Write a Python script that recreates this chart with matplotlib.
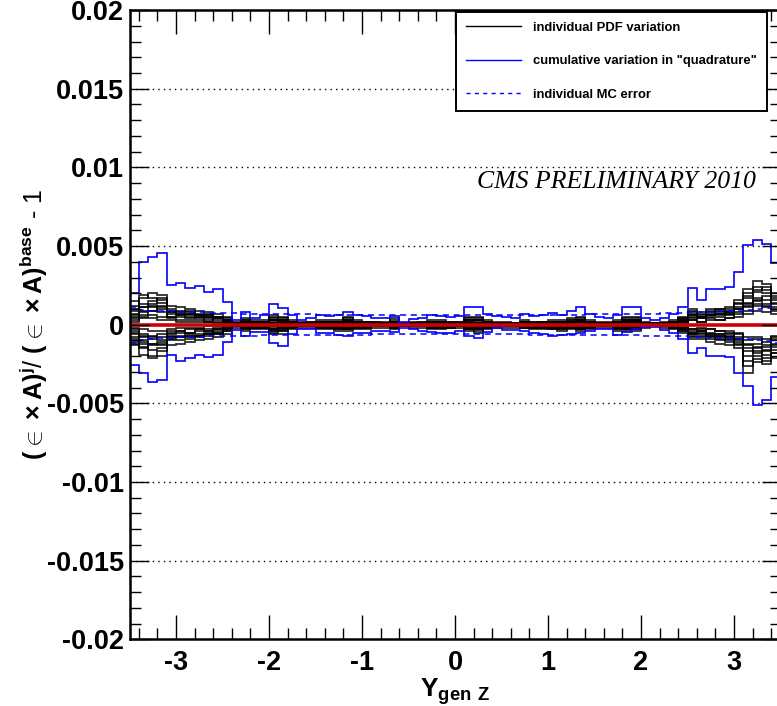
import numpy as np
import matplotlib
matplotlib.use('Agg')
import matplotlib.pyplot as plt
from matplotlib.lines import Line2D
from matplotlib.ticker import MultipleLocator, FuncFormatter

plt.rcParams['font.family'] = ['Liberation Sans', 'DejaVu Sans']
plt.rcParams['font.weight'] = 'bold'
plt.rcParams['mathtext.fontset'] = 'custom'
plt.rcParams['mathtext.rm'] = 'Liberation Sans'
plt.rcParams['mathtext.bf'] = 'Liberation Sans:bold'

# 70 bins of width 0.1 between -3.5 and 3.5
bin_edges = np.linspace(-3.5, 3.5, 71)

# cumulative variation in quadrature (units of 1e-3)
quad_up = [1.99, 4.00, 4.28, 4.58, 2.52, 2.67, 2.31, 2.46, 2.10, 2.27,
           1.46, 0.30, 0.83, 0.41, 0.62, 1.30, 1.04, 0.60, 0.30, 0.45,
           0.62, 0.57, 0.62, 0.83, 0.62, 0.57, 0.41, 0.41, 0.55, 0.19,
           0.34, 0.41, 0.62, 0.57, 0.51, 0.55, 1.10, 1.10, 0.68, 0.55,
           0.51, 0.41, 0.66, 0.55, 0.62, 0.76, 0.62, 0.87, 1.14, 0.66,
           0.51, 0.41, 0.60, 1.10, 1.14, 0.41, 0.30, 0.45, 0.68, 1.10,
           2.31, 1.57, 2.25, 2.25, 2.42, 3.37, 5.07, 5.38, 5.10, 3.90]
quad_down = [-2.56, -3.09, -3.62, -3.51, -1.93, -2.29, -2.14, -1.93, -2.07, -1.93,
             -1.12, -0.34, -0.70, -0.48, -0.48, -1.18, -1.35, -0.60, -0.29, -0.29,
             -0.51, -0.55, -0.65, -0.72, -0.55, -0.51, -0.40, -0.40, -0.44, -0.19,
             -0.29, -0.40, -0.44, -0.55, -0.55, -0.40, -0.72, -0.83, -0.44, -0.23,
             -0.34, -0.34, -0.40, -0.51, -0.61, -0.72, -0.65, -0.61, -0.55, -0.38,
             -0.27, -0.29, -0.65, -0.44, -0.29, -0.13, -0.17, -0.34, -0.51, -0.93,
             -1.82, -1.50, -1.99, -1.99, -2.03, -3.09, -3.88, -5.10, -4.79, -3.30]

# individual MC error (units of 1e-3), drawn as +/- band
mc_err = [1.15, 0.95, 0.90, 0.85, 0.85, 0.80, 0.80, 0.78, 0.75, 0.75,
          0.72, 0.72, 0.70, 0.70, 0.68, 0.68, 0.66, 0.66, 0.65, 0.65,
          0.64, 0.64, 0.63, 0.63, 0.63, 0.63, 0.62, 0.62, 0.62, 0.62,
          0.62, 0.62, 0.62, 0.62, 0.62, 0.62, 0.62, 0.62, 0.62, 0.62,
          0.62, 0.62, 0.62, 0.63, 0.63, 0.63, 0.63, 0.64, 0.64, 0.65,
          0.65, 0.66, 0.66, 0.68, 0.68, 0.70, 0.70, 0.72, 0.72, 0.75,
          0.78, 0.80, 0.82, 0.85, 0.85, 0.88, 0.92, 0.98, 1.05, 1.15]

# individual PDF variations (units of 1e-3)
pdf_vars = [
    [1.0, 1.7, 2.0, 1.9, 1.2, 1.1, 1.0, 0.9, 0.8, 0.7, 0.5, 0.2, 0.4, 0.3, 0.3, 0.6, 0.5, 0.3, 0.2, 0.2,
     0.3, 0.3, 0.3, 0.5, 0.3, 0.2, 0.2, 0.2, 0.4, 0.1, 0.2, 0.2, 0.3, 0.3, 0.2, 0.2, 0.5, 0.5, 0.3, 0.2,
     0.2, 0.1, 0.3, 0.2, 0.2, 0.3, 0.3, 0.4, 0.5, 0.3, 0.2, 0.2, 0.3, 0.5, 0.5, 0.2, 0.1, 0.2, 0.3, 0.5,
     1.0, 0.8, 1.0, 1.0, 1.1, 1.6, 2.3, 2.8, 2.6, 2.0],
    [-1.1, -1.9, -2.1, -2.0, -1.3, -1.2, -1.1, -1.0, -0.9, -0.8, -0.6, -0.2, -0.4, -0.3, -0.3, -0.6, -0.6, -0.3, -0.2, -0.2,
     -0.3, -0.3, -0.4, -0.4, -0.3, -0.3, -0.2, -0.2, -0.3, -0.1, -0.2, -0.2, -0.3, -0.3, -0.2, -0.2, -0.4, -0.5, -0.3, -0.2,
     -0.2, -0.2, -0.2, -0.3, -0.3, -0.3, -0.4, -0.3, -0.4, -0.3, -0.2, -0.2, -0.4, -0.4, -0.4, -0.2, -0.1, -0.2, -0.3, -0.5,
     -0.9, -0.9, -1.1, -1.2, -1.3, -1.5, -3.1, -2.4, -2.3, -2.1],
    [0.7, 1.3, 1.5, 1.4, 0.9, 0.9, 0.8, 0.7, 0.6, 0.5, 0.3, 0.1, 0.3, 0.2, 0.2, 0.4, 0.4, 0.2, 0.1, 0.1,
     0.2, 0.2, 0.2, 0.4, 0.2, 0.2, 0.1, 0.1, 0.3, 0.1, 0.1, 0.1, 0.2, 0.2, 0.1, 0.1, 0.4, 0.4, 0.2, 0.1,
     0.1, 0.1, 0.2, 0.1, 0.2, 0.2, 0.2, 0.3, 0.4, 0.2, 0.1, 0.1, 0.2, 0.4, 0.4, 0.1, 0.1, 0.1, 0.2, 0.4,
     0.7, 0.6, 0.8, 0.8, 0.9, 1.3, 1.8, 2.1, 2.0, 1.6],
    [-0.8, -1.4, -1.6, -1.5, -1.0, -1.0, -0.9, -0.8, -0.7, -0.6, -0.4, -0.1, -0.3, -0.2, -0.2, -0.5, -0.4, -0.2, -0.1, -0.1,
     -0.2, -0.2, -0.3, -0.3, -0.2, -0.2, -0.1, -0.1, -0.2, -0.1, -0.1, -0.1, -0.2, -0.2, -0.2, -0.1, -0.3, -0.4, -0.2, -0.1,
     -0.1, -0.1, -0.2, -0.2, -0.2, -0.2, -0.3, -0.2, -0.3, -0.2, -0.1, -0.1, -0.3, -0.3, -0.3, -0.1, -0.1, -0.1, -0.2, -0.4,
     -0.7, -0.7, -0.8, -0.9, -1.0, -1.2, -2.3, -2.0, -1.9, -1.6],
    [0.5, 0.9, 1.1, 1.0, 0.7, 0.6, 0.6, 0.5, 0.5, 0.4, 0.2, 0.1, 0.2, 0.1, 0.1, 0.3, 0.3, 0.1, 0.1, 0.1,
     0.1, 0.1, 0.2, 0.3, 0.1, 0.1, 0.1, 0.1, 0.2, 0.0, 0.1, 0.1, 0.1, 0.1, 0.1, 0.1, 0.3, 0.3, 0.1, 0.1,
     0.1, 0.0, 0.1, 0.1, 0.1, 0.1, 0.2, 0.2, 0.3, 0.1, 0.1, 0.1, 0.1, 0.3, 0.3, 0.1, 0.0, 0.1, 0.1, 0.3,
     0.5, 0.5, 0.6, 0.6, 0.7, 1.0, 1.4, 1.7, 1.6, 1.3],
    [-0.5, -1.0, -1.2, -1.1, -0.7, -0.7, -0.6, -0.6, -0.5, -0.4, -0.3, -0.1, -0.2, -0.1, -0.1, -0.3, -0.3, -0.1, -0.1, -0.1,
     -0.1, -0.1, -0.2, -0.2, -0.1, -0.1, -0.1, -0.1, -0.1, 0.0, -0.1, -0.1, -0.1, -0.1, -0.1, -0.1, -0.2, -0.3, -0.1, -0.1,
     -0.1, -0.1, -0.1, -0.1, -0.1, -0.2, -0.2, -0.1, -0.2, -0.1, -0.1, -0.1, -0.2, -0.2, -0.2, -0.1, 0.0, -0.1, -0.1, -0.3,
     -0.5, -0.5, -0.6, -0.7, -0.8, -0.9, -1.7, -1.5, -1.4, -1.2],
    [1.5, 0.6, 0.9, 1.2, 0.5, 0.6, 0.4, 0.5, 0.3, 0.4, 0.2, 0.0, 0.1, 0.2, 0.0, 0.2, 0.1, 0.1, 0.0, 0.1,
     0.0, 0.1, 0.1, 0.2, 0.1, 0.0, 0.1, 0.0, 0.1, 0.0, 0.1, 0.0, 0.1, 0.1, 0.0, 0.1, 0.2, 0.2, 0.1, 0.0,
     0.0, 0.1, 0.0, 0.1, 0.1, 0.1, 0.1, 0.1, 0.2, 0.0, 0.0, 0.1, 0.0, 0.2, 0.2, 0.0, 0.0, 0.0, 0.1, 0.2,
     0.3, 0.2, 0.4, 0.3, 0.4, 0.7, 0.9, 1.2, 1.1, 0.9],
    [-1.2, -0.8, -0.7, -1.0, -0.5, -0.4, -0.5, -0.3, -0.4, -0.3, -0.2, 0.0, -0.1, -0.1, -0.1, -0.2, -0.2, -0.1, 0.0, -0.1,
     -0.1, 0.0, -0.1, -0.1, -0.1, 0.0, 0.0, -0.1, -0.1, 0.0, 0.0, -0.1, -0.1, 0.0, -0.1, 0.0, -0.1, -0.2, -0.1, 0.0,
     -0.1, 0.0, -0.1, -0.1, 0.0, -0.1, -0.1, -0.1, -0.1, -0.1, 0.0, 0.0, -0.1, -0.1, -0.1, 0.0, 0.0, -0.1, 0.0, -0.2,
     -0.3, -0.3, -0.3, -0.4, -0.5, -0.6, -1.0, -0.9, -1.3, -0.8],
    [0.3, 0.5, 0.6, 0.5, 0.4, 0.3, 0.3, 0.3, 0.2, 0.2, 0.1, 0.0, 0.1, 0.1, 0.1, 0.1, 0.1, 0.0, 0.0, 0.0,
     0.1, 0.1, 0.1, 0.1, 0.0, 0.1, 0.0, 0.1, 0.1, 0.0, 0.0, 0.1, 0.1, 0.0, 0.1, 0.0, 0.1, 0.1, 0.0, 0.1,
     0.1, 0.0, 0.1, 0.0, 0.1, 0.1, 0.1, 0.2, 0.2, 0.1, 0.1, 0.0, 0.1, 0.2, 0.2, 0.1, 0.1, 0.0, 0.2, 0.3,
     0.8, 0.5, 0.7, 0.9, 0.8, 1.1, 1.7, 2.2, 2.4, 1.7],
    [-0.3, -0.6, -0.8, -0.6, -0.4, -0.4, -0.3, -0.3, -0.3, -0.2, -0.1, 0.0, -0.1, -0.1, -0.1, -0.1, -0.1, 0.0, 0.0, 0.0,
     -0.1, -0.1, -0.1, -0.1, 0.0, -0.1, 0.0, 0.0, -0.1, 0.0, 0.0, 0.0, -0.1, -0.1, 0.0, -0.1, -0.1, -0.1, 0.0, 0.0,
     0.0, -0.1, 0.0, -0.1, -0.1, -0.1, -0.1, -0.1, -0.1, 0.0, -0.1, 0.0, -0.1, -0.1, -0.2, 0.0, -0.1, 0.0, -0.1, -0.3,
     -0.6, -0.4, -0.7, -0.7, -0.8, -1.0, -2.0, -1.7, -2.5, -1.8],
    [0.9, 1.9, 1.7, 1.6, 1.0, 0.8, 0.9, 0.6, 0.7, 0.5, 0.4, 0.1, 0.2, 0.2, 0.2, 0.5, 0.3, 0.2, 0.1, 0.2,
     0.2, 0.2, 0.2, 0.3, 0.2, 0.1, 0.2, 0.1, 0.2, 0.1, 0.1, 0.2, 0.2, 0.2, 0.1, 0.2, 0.3, 0.3, 0.2, 0.1,
     0.1, 0.1, 0.2, 0.1, 0.1, 0.2, 0.2, 0.2, 0.3, 0.2, 0.1, 0.1, 0.2, 0.3, 0.3, 0.1, 0.1, 0.1, 0.2, 0.3,
     0.6, 0.5, 0.6, 0.7, 0.7, 1.0, 1.3, 1.5, 1.3, 1.1],
    [-0.9, -1.2, -2.0, -1.7, -0.9, -0.8, -0.8, -0.7, -0.6, -0.6, -0.3, -0.1, -0.2, -0.2, -0.2, -0.4, -0.4, -0.2, -0.1, -0.1,
     -0.2, -0.2, -0.2, -0.3, -0.2, -0.2, -0.1, -0.1, -0.2, -0.1, -0.1, -0.1, -0.2, -0.2, -0.1, -0.1, -0.3, -0.3, -0.2, -0.1,
     -0.1, -0.1, -0.2, -0.2, -0.2, -0.2, -0.2, -0.2, -0.3, -0.2, -0.1, -0.1, -0.2, -0.3, -0.3, -0.1, -0.1, -0.1, -0.2, -0.3,
     -0.6, -0.6, -0.7, -0.8, -0.9, -1.1, -1.5, -1.8, -1.7, -1.4],
    [0.4, 0.8, 0.9, 0.8, 0.5, 0.5, 0.5, 0.4, 0.4, 0.3, 0.2, 0.1, 0.2, 0.1, 0.2, 0.3, 0.2, 0.1, 0.1, 0.1,
     0.2, 0.2, 0.1, 0.2, 0.2, 0.1, 0.1, 0.1, 0.2, 0.1, 0.1, 0.1, 0.2, 0.2, 0.1, 0.1, 0.2, 0.3, 0.1, 0.1,
     0.1, 0.1, 0.1, 0.1, 0.2, 0.2, 0.1, 0.2, 0.3, 0.1, 0.1, 0.1, 0.1, 0.2, 0.3, 0.1, 0.1, 0.1, 0.1, 0.2,
     0.4, 0.4, 0.5, 0.5, 0.6, 0.8, 1.1, 1.3, 1.2, 1.0],
    [-0.4, -0.7, -0.9, -0.8, -0.6, -0.5, -0.5, -0.4, -0.4, -0.3, -0.2, -0.1, -0.2, -0.2, -0.1, -0.3, -0.2, -0.1, -0.1, -0.1,
     -0.2, -0.1, -0.2, -0.2, -0.1, -0.1, -0.1, -0.1, -0.2, -0.1, -0.1, -0.1, -0.2, -0.1, -0.1, -0.1, -0.2, -0.2, -0.1, -0.1,
     -0.1, -0.1, -0.1, -0.2, -0.2, -0.1, -0.2, -0.2, -0.2, -0.1, -0.1, -0.1, -0.2, -0.2, -0.2, -0.1, -0.1, -0.1, -0.1, -0.2,
     -0.4, -0.4, -0.5, -0.6, -0.6, -0.8, -1.2, -1.2, -1.1, -0.9],
    [0.2, 0.4, 0.4, 0.3, 0.3, 0.2, 0.2, 0.2, 0.2, 0.1, 0.1, 0.0, 0.1, 0.1, 0.0, 0.1, 0.1, 0.1, 0.0, 0.0,
     0.1, 0.0, 0.1, 0.1, 0.1, 0.0, 0.0, 0.1, 0.1, 0.0, 0.0, 0.1, 0.0, 0.1, 0.0, 0.1, 0.1, 0.1, 0.1, 0.0,
     0.0, 0.0, 0.1, 0.1, 0.0, 0.1, 0.1, 0.1, 0.1, 0.0, 0.0, 0.1, 0.1, 0.1, 0.1, 0.0, 0.0, 0.1, 0.1, 0.1,
     0.3, 0.2, 0.3, 0.3, 0.4, 0.5, 0.7, 0.9, 0.8, 0.7],
    [-0.2, -0.3, -0.4, -0.4, -0.3, -0.2, -0.2, -0.2, -0.1, -0.1, -0.1, 0.0, -0.1, 0.0, -0.1, -0.1, -0.1, 0.0, 0.0, -0.1,
     0.0, -0.1, -0.1, 0.0, -0.1, 0.0, -0.1, 0.0, 0.0, 0.0, -0.1, 0.0, 0.0, -0.1, 0.0, 0.0, -0.1, -0.1, 0.0, -0.1,
     0.0, 0.0, -0.1, 0.0, -0.1, -0.1, 0.0, -0.1, -0.1, 0.0, 0.0, -0.1, 0.0, -0.1, -0.1, 0.0, 0.0, 0.0, -0.1, -0.1,
     -0.3, -0.2, -0.3, -0.4, -0.4, -0.5, -0.8, -0.8, -0.9, -0.7],
    [1.2, 1.1, 1.3, 1.7, 0.8, 0.7, 0.7, 0.6, 0.5, 0.5, 0.3, 0.1, 0.2, 0.1, 0.1, 0.3, 0.2, 0.1, 0.1, 0.0,
     0.1, 0.1, 0.1, 0.2, 0.1, 0.1, 0.0, 0.0, 0.1, 0.0, 0.0, 0.0, 0.0, 0.0, 0.0, -0.1, 0.0, -0.1, 0.0, 0.0,
     -0.1, 0.0, -0.1, -0.1, -0.1, -0.1, -0.1, -0.1, -0.2, -0.1, -0.1, -0.1, -0.1, -0.2, -0.2, -0.1, -0.1, -0.1, -0.1, -0.2,
     -0.5, -0.4, -0.6, -0.6, -0.7, -0.9, -1.3, -1.4, -1.6, -1.3],
    [-1.3, -1.5, -1.2, -1.3, -0.8, -0.8, -0.7, -0.7, -0.6, -0.5, -0.3, -0.1, -0.2, -0.1, -0.1, -0.3, -0.2, -0.1, -0.1, 0.0,
     -0.1, -0.1, -0.1, -0.2, -0.1, 0.0, 0.0, 0.0, -0.1, 0.0, 0.0, 0.0, 0.0, 0.0, 0.1, 0.0, 0.1, 0.1, 0.0, 0.0,
     0.1, 0.0, 0.1, 0.1, 0.1, 0.1, 0.1, 0.1, 0.2, 0.1, 0.1, 0.1, 0.1, 0.2, 0.2, 0.1, 0.1, 0.1, 0.1, 0.2,
     0.6, 0.4, 0.6, 0.7, 0.8, 1.0, 1.2, 1.6, 1.8, 1.4],
    [0.6, 1.1, 1.2, 1.1, 0.8, 0.7, 0.7, 0.6, 0.6, 0.5, 0.3, 0.1, 0.3, 0.2, 0.2, 0.3, 0.3, 0.2, 0.1, 0.1,
     0.2, 0.2, 0.2, 0.3, 0.2, 0.2, 0.1, 0.1, 0.2, 0.1, 0.1, 0.1, 0.2, 0.2, 0.2, 0.1, 0.3, 0.3, 0.2, 0.1,
     0.1, 0.1, 0.2, 0.2, 0.2, 0.2, 0.2, 0.3, 0.3, 0.2, 0.1, 0.1, 0.2, 0.3, 0.3, 0.1, 0.1, 0.1, 0.2, 0.4,
     0.9, 0.7, 0.9, 1.0, 1.0, 1.4, 2.0, 2.4, 2.2, 1.8],
    [-0.6, -1.1, -1.3, -1.2, -0.8, -0.8, -0.7, -0.7, -0.6, -0.5, -0.4, -0.1, -0.3, -0.2, -0.2, -0.4, -0.3, -0.2, -0.1, -0.1,
     -0.2, -0.2, -0.3, -0.3, -0.2, -0.2, -0.1, -0.1, -0.2, -0.1, -0.1, -0.1, -0.2, -0.2, -0.2, -0.1, -0.3, -0.3, -0.2, -0.1,
     -0.1, -0.1, -0.2, -0.2, -0.2, -0.3, -0.3, -0.2, -0.3, -0.2, -0.1, -0.1, -0.3, -0.3, -0.3, -0.1, -0.1, -0.1, -0.2, -0.4,
     -0.8, -0.8, -0.9, -1.0, -1.1, -1.3, -2.6, -2.2, -2.1, -1.8],
]

base_ratio = np.zeros(70)
unit = 1e-3

fig = plt.figure(figsize=(7.77, 7.06), dpi=100)
ax = fig.add_axes([129.5 / 777, 1 - 639.3 / 706, 651 / 777, 629.2 / 706])

for var in pdf_vars:
    ax.stairs(np.array(var) * unit, bin_edges, baseline=None, color='black', lw=1.25, alpha=0.85)

ax.stairs(np.array(quad_up) * unit, bin_edges, baseline=None, color='#0000ff', lw=1.2)
ax.stairs(np.array(quad_down) * unit, bin_edges, baseline=None, color='#0000ff', lw=1.2)
ax.stairs(np.array(mc_err) * unit, bin_edges, baseline=None, color='#0000ff', lw=1.1, ls=(0, (4, 3)))
ax.stairs(-np.array(mc_err) * unit, bin_edges, baseline=None, color='#0000ff', lw=1.1, ls=(0, (4, 3)))
ax.stairs(base_ratio, bin_edges, baseline=None, color='#d00000', lw=2.6)

ax.set_xlim(-3.5, 3.5)
ax.set_ylim(-0.02, 0.02)

for y in [-0.015, -0.01, -0.005, 0.005, 0.01, 0.015]:
    ax.axhline(y, color='black', lw=1.0, ls=(0, (1, 3)), zorder=0)

ax.xaxis.set_major_locator(MultipleLocator(1))
ax.xaxis.set_minor_locator(MultipleLocator(0.2))
ax.yaxis.set_major_locator(MultipleLocator(0.005))
ax.yaxis.set_minor_locator(MultipleLocator(0.001))
ax.yaxis.set_major_formatter(FuncFormatter(lambda v, p: '%g' % round(v, 4)))
ax.xaxis.set_major_formatter(FuncFormatter(lambda v, p: '%g' % round(v, 2)))
ax.tick_params(which='both', direction='in', top=True, right=True, width=1.0)
ax.tick_params(which='major', length=17, labelsize=19.5)
ax.tick_params(axis='x', which='major', pad=8)
ax.tick_params(axis='y', which='major', length=14, pad=4)
ax.tick_params(which='minor', length=8)
for sp in ax.spines.values():
    sp.set_linewidth(1.8)

ax.set_xlabel(r'$\mathbf{Y}_{\mathbf{gen\ Z}}$', fontsize=19, labelpad=0)
ax.set_ylabel(r'$\mathbf{(}\in\times\mathbf{A)}^{\mathbf{j}}$/ $\mathbf{(}\in\times\mathbf{A)}^{\mathbf{base}}$ - 1',
              fontsize=18, labelpad=-2)

fig.text(616 / 777, 1 - 182 / 706, 'CMS PRELIMINARY 2010', family='Liberation Serif',
         style='italic', weight='normal', fontsize=18.5, ha='center', va='center')

handles = [Line2D([], [], color='black', lw=1.0),
           Line2D([], [], color='#0000ff', lw=1.0),
           Line2D([], [], color='#0000ff', lw=1.0, ls=(0, (3, 3)))]
labels = ['individual PDF variation', 'cumulative variation in "quadrature"', 'individual MC error']
leg = fig.legend(handles, labels, loc='upper left', bbox_to_anchor=(456 / 777, 1 - 11.7 / 706),
                 fontsize=9.4, frameon=True, fancybox=False, edgecolor='black', framealpha=1,
                 handlelength=4.2, handletextpad=0.95, labelspacing=1.65, borderpad=0.75,
                 borderaxespad=0)
leg.get_frame().set_linewidth(1.4)

fig.savefig('out.png', dpi=100)
